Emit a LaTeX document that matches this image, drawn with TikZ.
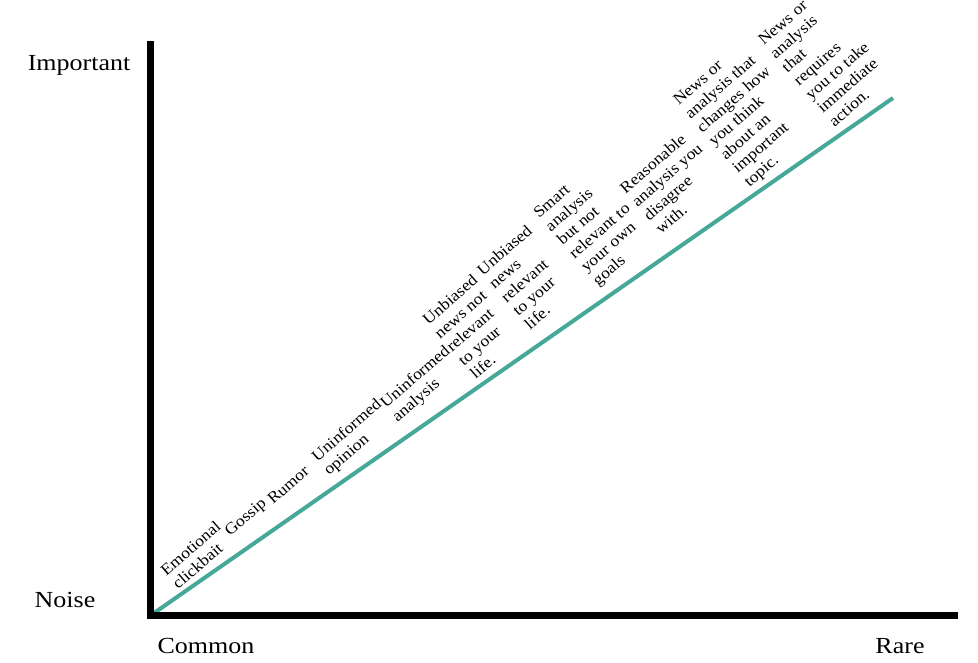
\documentclass[tikz,border=0pt]{standalone}
\usepackage{fontspec}
\setmainfont{Liberation Serif}
\newfontfamily\itemfam[FakeStretch=1.1]{Liberation Serif}
\newfontfamily\axisfam[FakeStretch=1.13]{Liberation Serif}
\definecolor{signalgreen}{RGB}{69,168,152}
\tikzset{
    axislbl/.style={font=\axisfam\fontsize{23}{27}\selectfont,inner sep=0pt,anchor=base},
    itemlbl/.style={font=\itemfam\fontsize{16}{18}\selectfont,align=left,rotate=41,
        anchor=base west,inner sep=0pt}
}
\begin{document}
\begin{tikzpicture}[x=1pt,y=-1pt]
    \useasboundingbox (0,0) rectangle (978,663);
    %% axes corners
    \coordinate (orig) at (150.5,615.5);
    \coordinate (top) at (150.5,41);
    \coordinate (right) at (958,615.5);
    \coordinate (sigend) at (893,98);
    %% signal line
    \draw[signalgreen,line width=4pt] (orig) -- (sigend);
    %% axes
    \draw[line width=7pt] (top) -- (orig) -- (right);
    \node[axislbl] (important) at (79,71) {Important};
    \node[axislbl] (noise) at (65,607) {Noise};
    \node[axislbl] (common) at (206,653) {Common};
    \node[axislbl] (rare) at (900,653) {Rare};
    %% kinds of information (start of last baseline)
    \foreach \x/\y/\txt [count=\i] in {
        178/590/{Emotional\\clickbait},
        230/537/{Gossip},
        273/505/{Rumor},
        329/476/{Uninformed\\opinion},
        397.5/422.5/{Uninformed\\analysis},
        475.5/380/{Unbiased\\news not\\relevant\\to your\\life.},
        530/330.5/{Unbiased\\news\\relevant\\to your\\life.},
        598/286.5/{Smart\\analysis\\but not\\relevant to\\your own\\goals},
        661/235/{Reasonable\\analysis you\\disagree\\with.},
        749.5/187.5/{News or\\analysis that\\changes how\\you think\\about an\\important\\topic.},
        834.5/127.5/{News or\\analysis\\that\\requires\\you to take\\immediate\\action.}}
        \node[itemlbl] (item\i) at (\x,\y) {\txt};
\end{tikzpicture}
\end{document}
